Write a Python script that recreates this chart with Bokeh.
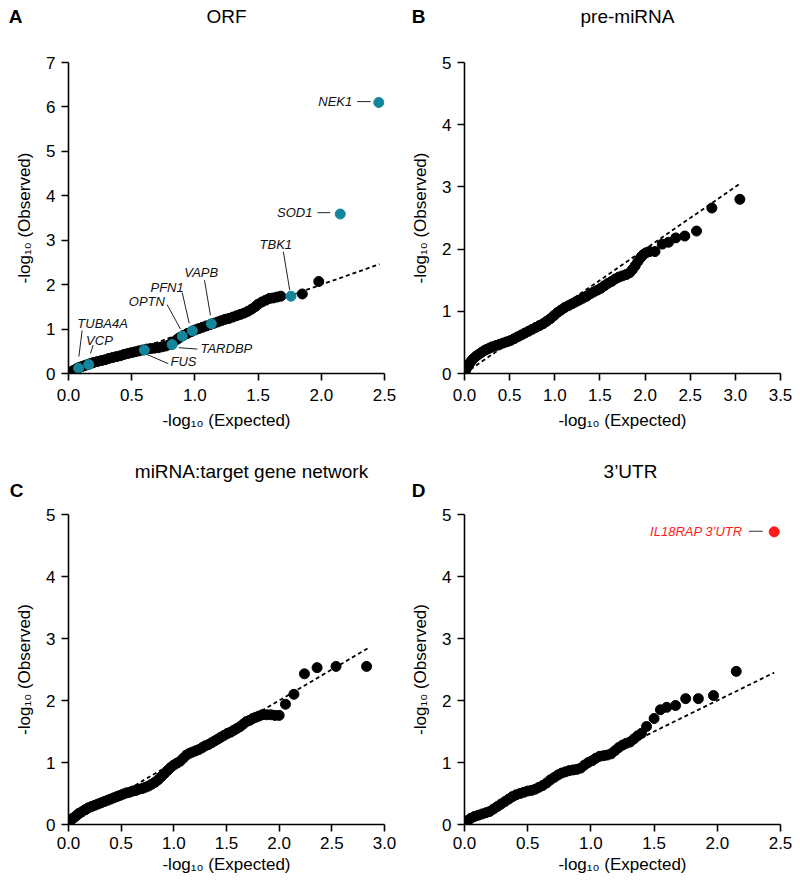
from bokeh.plotting import figure
from bokeh.layouts import column, row
from bokeh.models import Range1d, FixedTicker, NumeralTickFormatter
from bokeh.embed import file_html
from bokeh.resources import INLINE
from bokeh.core.properties import value

FONT = "Liberation Sans"

# ---------------- data ----------------
# A: ORF
orf_x = [0.00, 0.02, 0.04, 0.06, 0.08, 0.10, 0.12, 0.14, 0.16, 0.18, 0.20, 0.23, 0.26, 0.29,
         0.32, 0.35, 0.38, 0.41, 0.44, 0.47, 0.50, 0.53, 0.56, 0.59, 0.62, 0.65, 0.68, 0.71,
         0.74, 0.77, 0.80, 0.83, 0.86, 0.88, 0.91, 0.94, 0.97, 1.00, 1.03, 1.06, 1.09, 1.12,
         1.15, 1.18, 1.21, 1.24, 1.27, 1.30, 1.33, 1.36, 1.39, 1.42, 1.45, 1.48, 1.50, 1.53,
         1.56, 1.59, 1.62, 1.65, 1.68, 1.85, 1.98]
orf_y = [0.00, 0.04, 0.07, 0.10, 0.13, 0.15, 0.17, 0.19, 0.21, 0.23, 0.25, 0.27, 0.29, 0.31,
         0.34, 0.36, 0.38, 0.40, 0.43, 0.45, 0.47, 0.49, 0.51, 0.53, 0.55, 0.56, 0.57, 0.58,
         0.60, 0.62, 0.65, 0.71, 0.77, 0.81, 0.86, 0.90, 0.94, 0.98, 1.01, 1.04, 1.07, 1.10,
         1.13, 1.16, 1.19, 1.22, 1.24, 1.27, 1.30, 1.33, 1.36, 1.40, 1.45, 1.51, 1.56, 1.61,
         1.65, 1.69, 1.70, 1.72, 1.74, 1.79, 2.07]
orf_genes = ["TUBA4A", "VCP", "FUS", "TARDBP", "OPTN", "PFN1", "VAPB", "TBK1", "SOD1", "NEK1"]
orf_gene_x = [0.08, 0.16, 0.60, 0.82, 0.90, 0.98, 1.13, 1.76, 2.15, 2.455]
orf_gene_y = [0.12, 0.20, 0.53, 0.65, 0.84, 0.96, 1.12, 1.74, 3.59, 6.10]

# B: pre-miRNA
pre_x = [0.00, 0.01, 0.02, 0.04, 0.06, 0.08, 0.10, 0.13, 0.16, 0.19, 0.22, 0.25, 0.28, 0.31,
         0.35, 0.39, 0.43, 0.47, 0.51, 0.55, 0.59, 0.63, 0.67, 0.71, 0.75, 0.79, 0.83, 0.87,
         0.91, 0.95, 0.99, 1.03, 1.07, 1.11, 1.15, 1.19, 1.23, 1.27, 1.31, 1.35, 1.39, 1.43,
         1.47, 1.51, 1.55, 1.59, 1.63, 1.67, 1.71, 1.75, 1.79, 1.83, 1.86, 1.89, 1.92, 1.95,
         1.98, 2.01, 2.05, 2.11, 2.19, 2.26, 2.34, 2.44, 2.57, 2.74, 3.05]
pre_y = [0.00, 0.04, 0.08, 0.12, 0.17, 0.21, 0.24, 0.28, 0.31, 0.34, 0.37, 0.39, 0.41, 0.43,
         0.45, 0.47, 0.49, 0.51, 0.53, 0.56, 0.59, 0.62, 0.65, 0.68, 0.71, 0.74, 0.77, 0.80,
         0.84, 0.88, 0.93, 0.98, 1.02, 1.06, 1.09, 1.12, 1.15, 1.18, 1.21, 1.24, 1.28, 1.31,
         1.34, 1.37, 1.41, 1.45, 1.48, 1.52, 1.55, 1.57, 1.59, 1.62, 1.67, 1.73, 1.80, 1.86,
         1.91, 1.94, 1.96, 1.96, 2.08, 2.11, 2.18, 2.21, 2.29, 2.66, 2.80]

# C: miRNA:target gene network
net_x = [0.00, 0.01, 0.02, 0.04, 0.06, 0.08, 0.10, 0.13, 0.16, 0.19, 0.22, 0.25, 0.28, 0.31,
         0.34, 0.37, 0.40, 0.43, 0.46, 0.49, 0.52, 0.55, 0.58, 0.61, 0.64, 0.67, 0.70, 0.73,
         0.76, 0.79, 0.82, 0.85, 0.88, 0.91, 0.94, 0.97, 1.00, 1.03, 1.06, 1.09, 1.12, 1.15,
         1.18, 1.21, 1.24, 1.27, 1.30, 1.33, 1.36, 1.39, 1.42, 1.45, 1.48, 1.51, 1.54, 1.57,
         1.60, 1.63, 1.66, 1.69, 1.72, 1.75, 1.78, 1.81, 1.84, 1.88, 1.92, 1.96, 2.00, 2.06,
         2.14, 2.24, 2.36, 2.54, 2.83]
net_y = [0.00, 0.04, 0.07, 0.10, 0.12, 0.15, 0.18, 0.21, 0.24, 0.27, 0.29, 0.31, 0.33, 0.35,
         0.37, 0.39, 0.41, 0.43, 0.45, 0.47, 0.49, 0.51, 0.52, 0.54, 0.55, 0.57, 0.58, 0.60,
         0.62, 0.65, 0.68, 0.72, 0.77, 0.82, 0.87, 0.92, 0.96, 0.99, 1.02, 1.07, 1.12, 1.15,
         1.17, 1.19, 1.21, 1.24, 1.27, 1.29, 1.32, 1.35, 1.38, 1.41, 1.44, 1.47, 1.49, 1.52,
         1.55, 1.58, 1.62, 1.66, 1.68, 1.71, 1.73, 1.75, 1.77, 1.77, 1.77, 1.76, 1.76, 1.94,
         2.10, 2.43, 2.53, 2.55, 2.55]

# D: 3'UTR
utr_x = [0.00, 0.01, 0.03, 0.05, 0.08, 0.11, 0.14, 0.17, 0.20, 0.23, 0.26, 0.29, 0.32, 0.35,
         0.38, 0.41, 0.44, 0.47, 0.50, 0.53, 0.56, 0.59, 0.62, 0.65, 0.68, 0.71, 0.74, 0.77,
         0.80, 0.83, 0.86, 0.89, 0.92, 0.95, 0.98, 1.01, 1.04, 1.07, 1.10, 1.13, 1.16, 1.19,
         1.22, 1.25, 1.28, 1.31, 1.34, 1.37, 1.40, 1.44, 1.50, 1.55, 1.60, 1.67, 1.75, 1.85,
         1.97, 2.15]
utr_y = [0.00, 0.04, 0.07, 0.10, 0.13, 0.15, 0.17, 0.19, 0.21, 0.25, 0.29, 0.33, 0.37, 0.41,
         0.45, 0.48, 0.50, 0.52, 0.54, 0.55, 0.57, 0.60, 0.63, 0.67, 0.72, 0.76, 0.80, 0.83,
         0.85, 0.87, 0.88, 0.89, 0.91, 0.96, 1.00, 1.03, 1.07, 1.10, 1.11, 1.12, 1.14, 1.19,
         1.24, 1.28, 1.31, 1.33, 1.38, 1.43, 1.47, 1.58, 1.71, 1.85, 1.89, 1.92, 2.03, 2.03,
         2.08, 2.47]
utr_hit = ["IL18RAP 3\u2019UTR"]
utr_hit_x = [2.45]
utr_hit_y = [4.72]

panel_letters = ["A", "B", "C", "D"]
panel_titles = ["ORF", "pre-miRNA", "miRNA:target gene network", "3\u2019UTR"]

# reference-line extents (y = x)
ref_end = {"A": 2.46, "B": 3.05, "C": 2.84, "D": 2.45}

TEAL = "#14869c"
RED = "#ff1a1a"

# annotation layout: text x, text y, align, leader x0, y0, x1, y1
orf_layout = {
    "NEK1":   (2.245, 6.12, "right", 2.284, 6.12, 2.39, 6.12),
    "SOD1":   (1.93, 3.62, "right", 1.97, 3.62, 2.07, 3.62),
    "TBK1":   (1.64, 2.91, "center", 1.70, 2.74, 1.75, 1.88),
    "VAPB":   (1.05, 2.28, "center", 1.076, 2.10, 1.123, 1.31),
    "PFN1":   (0.78, 1.93, "center", 0.90, 1.82, 0.955, 1.13),
    "OPTN":   (0.62, 1.62, "center", 0.78, 1.55, 0.886, 1.00),
    "TUBA4A": (0.27, 1.12, "center", 0.108, 0.97, 0.082, 0.38),
    "VCP":    (0.245, 0.74, "center", 0.195, 0.64, 0.174, 0.45),
    "TARDBP": (1.044, 0.56, "left", 0.873, 0.58, 1.02, 0.55),
    "FUS":    (0.807, 0.26, "left", 0.62, 0.43, 0.79, 0.22),
}

ROW_W = 796


def header(height, items):
    """items: (text, x_px, y_px, bold) in header pixel coordinates."""
    h = figure(width=ROW_W, height=height, x_range=Range1d(0, ROW_W),
               y_range=Range1d(height, 0), x_axis_type=None, y_axis_type=None,
               output_backend="svg", toolbar_location=None, min_border=0)
    h.outline_line_color = None
    h.background_fill_color = "white"
    h.border_fill_color = "white"
    for txt, x, y, bold in items:
        h.text(x=[x], y=[y], text=[txt], text_align="center", text_baseline="alphabetic",
               text_font=value(FONT), text_font_size="19px",
               text_font_style="bold" if bold else "normal", text_color="black")
    return h


def make_panel(xmax, ymax, xticks, yticks, bl, br, bt, bb, frame_h,
               tick_standoff, xlabel_standoff):
    p = figure(frame_width=316, frame_height=frame_h,
               x_range=Range1d(0, xmax), y_range=Range1d(0, ymax),
               output_backend="svg", toolbar_location=None,
               min_border_left=bl, min_border_right=br,
               min_border_top=bt, min_border_bottom=bb)
    p.xgrid.visible = False
    p.ygrid.visible = False
    p.outline_line_color = None
    p.background_fill_color = "white"
    p.border_fill_color = "white"
    for ax in (p.xaxis[0], p.yaxis[0]):
        ax.axis_line_width = 1.6
        ax.axis_line_color = "black"
        ax.major_tick_line_width = 1.6
        ax.major_tick_line_color = "black"
        ax.major_tick_out = 7
        ax.major_tick_in = 0
        ax.minor_tick_line_color = None
        ax.major_label_text_font = FONT
        ax.major_label_text_font_size = "17px"
        ax.major_label_text_color = "black"
        ax.axis_label_text_font = FONT
        ax.axis_label_text_font_size = "17px"
        ax.axis_label_text_font_style = "normal"
        ax.axis_label_text_color = "black"
    p.xaxis[0].major_label_standoff = tick_standoff
    p.yaxis[0].major_label_standoff = 6
    p.xaxis[0].ticker = FixedTicker(ticks=xticks)
    p.yaxis[0].ticker = FixedTicker(ticks=yticks)
    p.xaxis[0].formatter = NumeralTickFormatter(format="0.0")
    p.yaxis[0].formatter = NumeralTickFormatter(format="0")
    p.xaxis[0].axis_label = "-log\u2081\u2080 (Expected)"
    p.yaxis[0].axis_label = "-log\u2081\u2080 (Observed)"
    p.xaxis[0].axis_label_standoff = xlabel_standoff
    p.yaxis[0].axis_label_standoff = 9
    return p


def ref_line(p, key):
    m = ref_end[key]
    p.line([0, m], [0, m], line_color="black", line_width=1.8, line_dash="4 3")


# headers (titles + panel letters)
head1 = header(38, [(panel_titles[0], 226, 15.5, False), (panel_titles[1], 627, 15.5, False),
                    (panel_letters[0], 15, 16, True), (panel_letters[1], 418, 16, True)])
head2 = header(60, [(panel_titles[2], 251, 30.5, False), (panel_titles[3], 630, 31, False),
                    (panel_letters[2], 16, 49.5, True), (panel_letters[3], 418, 49.5, True)])

pA = make_panel(2.5, 7, [0, 0.5, 1.0, 1.5, 2.0, 2.5], list(range(0, 8)),
                68, 20, 24, 67, 311, 8, 7)
ref_line(pA, "A")
pA.scatter(orf_x, orf_y, size=10, color="black")
pA.scatter(orf_gene_x, orf_gene_y, size=10, color=TEAL)
for g in orf_genes:
    tx, ty, al, x0, y0, x1, y1 = orf_layout[g]
    pA.segment(x0=[x0], y0=[y0], x1=[x1], y1=[y1], line_color="#222222", line_width=1)
    pA.text(x=[tx], y=[ty], text=[g], text_align=al, text_baseline="middle",
            text_font=value(FONT), text_font_style="italic", text_font_size="13px",
            text_color="#111111")

pB = make_panel(3.5, 5, [0, 0.5, 1.0, 1.5, 2.0, 2.5, 3.0, 3.5], list(range(0, 6)),
                60, 16, 24, 67, 311, 8, 7)
ref_line(pB, "B")
pB.scatter(pre_x, pre_y, size=10, color="black")

pC = make_panel(3.0, 5, [0, 0.5, 1.0, 1.5, 2.0, 2.5, 3.0], list(range(0, 6)),
                68, 20, 14, 58, 310, 5, 3)
ref_line(pC, "C")
pC.scatter(net_x, net_y, size=10, color="black")

pD = make_panel(2.5, 5, [0, 0.5, 1.0, 1.5, 2.0, 2.5], list(range(0, 6)),
                60, 16, 14, 58, 310, 5, 3)
ref_line(pD, "D")
pD.scatter(utr_x, utr_y, size=10, color="black")
pD.scatter(utr_hit_x, utr_hit_y, size=10, color=RED)
pD.segment(x0=[2.25], y0=[4.73], x1=[2.36], y1=[4.73], line_color="#333333", line_width=1)
pD.text(x=[2.20], y=[4.73], text=utr_hit, text_align="right", text_baseline="middle",
        text_font=value(FONT), text_font_style="italic", text_font_size="13px",
        text_color=RED)

layout = column(head1, row(pA, pB), head2, row(pC, pD))
open("out.html", "w").write(file_html(layout, INLINE))
